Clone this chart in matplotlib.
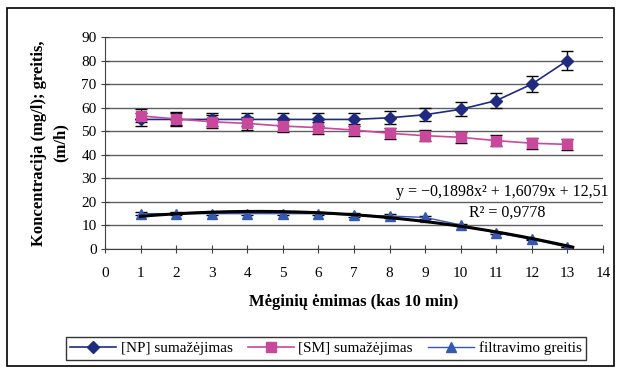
import numpy as np
import matplotlib.pyplot as plt
from matplotlib.patches import Rectangle
from matplotlib.lines import Line2D

plt.rcParams['font.family'] = ['Liberation Serif', 'DejaVu Serif']

# Data
x = [1, 2, 3, 4, 5, 6, 7, 8, 9, 10, 11, 12, 13]
np_vals = [55, 55, 55, 55, 55, 55, 55, 55.7, 57, 59.3, 63, 70, 80]
np_err = [2.75, 2.75, 2.75, 2.75, 2.75, 2.75, 2.75, 2.8, 2.85, 2.95, 3.15, 3.5, 4.0]
sm_vals = [56.5, 55.2, 54, 53.3, 52.2, 51.5, 50.5, 49.1, 48.1, 47.4, 46, 44.9, 44.4]
sm_err = [2.8, 2.75, 2.7, 2.65, 2.6, 2.6, 2.5, 2.45, 2.4, 2.35, 2.3, 2.25, 2.2]
filt_vals = [15, 15, 15, 15, 15, 15, 14.4, 14, 13.4, 10.2, 6.9, 4.1, 0.8]
filt_err = [0.75, 0.75, 0.75, 0.75, 0.75, 0.75, 0.7, 0.7, 0.65, 0.5, 0.35, 0.2, 0.05]

labels = ['[NP] sumažėjimas', '[SM] sumažėjimas', 'filtravimo greitis']
eq_text = 'y = \u22120,1898x\u00b2 + 1,6079x + 12,51'
r2_text = 'R\u00b2 = 0,9778'

c_np = '#1F2A80'
c_sm = '#C8489C'
c_fl = '#3558B0'

fig = plt.figure(figsize=(6.21, 3.68), dpi=100)
ax = fig.add_axes([0.169, 0.3234, 0.802, 0.5761])

# outer frame
fig.patches.append(Rectangle((7/621, 1-366/368), 607/621, 358/368, transform=fig.transFigure,
                             fill=False, edgecolor='black', linewidth=1.2))

ax.set_xlim(0, 14)
ax.set_ylim(0, 90)
ax.set_xticks(range(0, 15))
ax.set_yticks(range(0, 91, 10))
ax.yaxis.grid(True, color='#606060', linewidth=1.0)
ax.set_axisbelow(True)
for s in ['top', 'right']:
    ax.spines[s].set_visible(False)
for s in ['left', 'bottom']:
    ax.spines[s].set_color('#404040')
ax.tick_params(axis='both', direction='inout', length=6, color='#404040', labelsize=11, pad=3)
ax.tick_params(axis='x', pad=10)

ekw = dict(ecolor='black', elinewidth=1.0, capsize=4, capthick=1.0)
ax.errorbar(x, np_vals, yerr=np_err, color=c_np, marker='D', markersize=6, linewidth=1.2, **ekw)
ax.errorbar(x, sm_vals, yerr=sm_err, color=c_sm, marker='s', markersize=6.5, linewidth=1.2, **ekw)
ax.errorbar(x, filt_vals, yerr=filt_err, color=c_fl, marker='^', markersize=7, linewidth=1.0, **ekw)

# polynomial trendline of filtration speed
coef = np.polyfit(x, filt_vals, 2)
xt = np.linspace(1, 13.15, 200)
ax.plot(xt, np.polyval(coef, xt), color='black', linewidth=2.2, zorder=2.5)

ax.text(14.17, 24.2, eq_text, ha='right', va='center', fontsize=11.5)
ax.text(11.3, 15.3, r2_text, ha='center', va='center', fontsize=11.5)

ax.set_xlabel('Mėginių ėmimas (kas 10 min)', fontsize=12, fontweight='bold', labelpad=10)
ax.set_ylabel('Koncentracija (mg/l); greitis,\n(m/h)', fontsize=12, fontweight='bold',
              labelpad=9, linespacing=1.45)

h = [Line2D([], [], color=c_np, marker='D', markersize=6, linewidth=1.2),
     Line2D([], [], color=c_sm, marker='s', markersize=6.5, linewidth=1.2),
     Line2D([], [], color=c_fl, marker='^', markersize=7, linewidth=1.0)]
leg = fig.legend(h, labels, loc='center', bbox_to_anchor=(326/621, 1-348.5/368), ncol=3,
                 frameon=True, fancybox=False, edgecolor='black', fontsize=11,
                 handlelength=3.0, columnspacing=1.0, handletextpad=0.3, borderpad=0.3,
                 borderaxespad=0)
leg.get_frame().set_linewidth(1.0)

plt.savefig('out.png', dpi=100)
plt.close()
